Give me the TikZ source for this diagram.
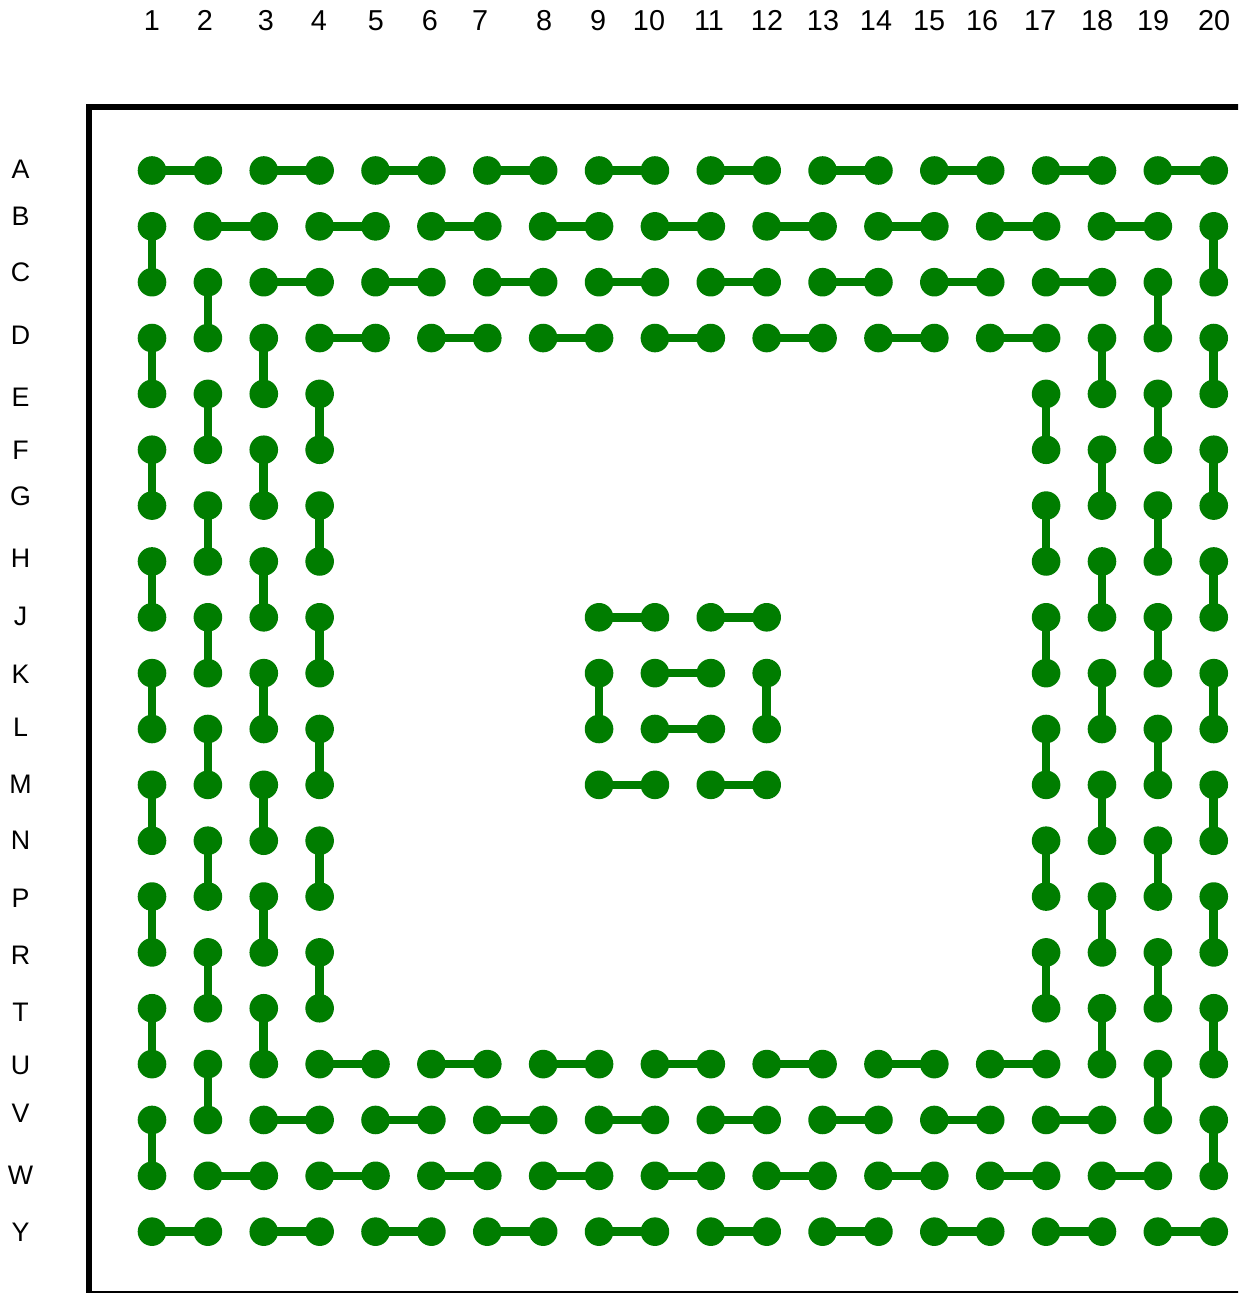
\documentclass[tikz,border=0pt]{standalone}
\usepackage{fontspec}
\setmainfont{Liberation Sans}
\definecolor{padgreen}{RGB}{0,125,0}
\begin{document}
\begin{tikzpicture}[x=0.5pt,y=-0.5pt,
  ball/.style={circle,fill=padgreen,inner sep=0pt,minimum size=14.3pt},
  trace/.style={padgreen,line width=4.3pt},
  collabel/.style={font=\fontsize{14.4}{16}\selectfont,inner sep=0pt},
  rowlabel/.style={font=\fontsize{13.4}{15}\selectfont,inner sep=0pt}]
\clip (0,0) rectangle (1238,1293);
\fill[white] (0,0) rectangle (1238,1293);
\draw[line width=3pt] (89,107) rectangle (1242,1294);
% column and row labels
\foreach \c/\x in {1/152,2/205,3/266,4/319,5/376,6/430,7/480,8/544,9/598,10/649,
  11/709,12/767,13/823,14/876,15/929,16/982,17/1040,18/1097,19/1153,20/1214}
  \node[collabel] (col-\c) at (\x,20.5) {\c};
\foreach \n/\y in {A/169,B/216,C/272,D/335,E/397,F/450,G/496,H/558,J/616,K/674,
  L/727,M/784,N/840,P/898,R/955,T/1012,U/1065,V/1113,W/1175,Y/1232}
  \node[rowlabel] (row-\n) at (20.5,\y) {\n};
% balls: outer four rings and centre block
\foreach \r in {1,...,20}
  \foreach \c in {1,...,20}{
    \pgfmathtruncatemacro\d{min(\r,\c,21-\r,21-\c)}
    \pgfmathtruncatemacro\show{or(\d<5,\d>8)}
    \ifnum\show=1
      \node[ball] (b-\r-\c) at ({152+(\c-1)*55.88},{170.5+(\r-1)*55.85}) {};
    \fi
  }
% daisy chain links, ring by ring
\foreach \k in {1,2,3,4,9,10}{
  \pgfmathtruncatemacro\kk{21-\k}
  \pgfmathtruncatemacro\nh{10-\k}
  \foreach \i in {0,...,\nh}{
    \pgfmathtruncatemacro\ca{\k+2*\i}
    \pgfmathtruncatemacro\cb{\ca+1}
    \draw[trace] (b-\k-\ca.center) -- (b-\k-\cb.center);
    \draw[trace] (b-\kk-\ca.center) -- (b-\kk-\cb.center);
  }
  \ifnum\k<10
    \pgfmathtruncatemacro\nv{9-\k}
    \foreach \i in {0,...,\nv}{
      \pgfmathtruncatemacro\ra{\k+1+2*\i}
      \pgfmathtruncatemacro\rb{\ra+1}
      \draw[trace] (b-\ra-\k.center) -- (b-\rb-\k.center);
      \draw[trace] (b-\ra-\kk.center) -- (b-\rb-\kk.center);
    }
  \fi
}
\end{tikzpicture}
\end{document}
